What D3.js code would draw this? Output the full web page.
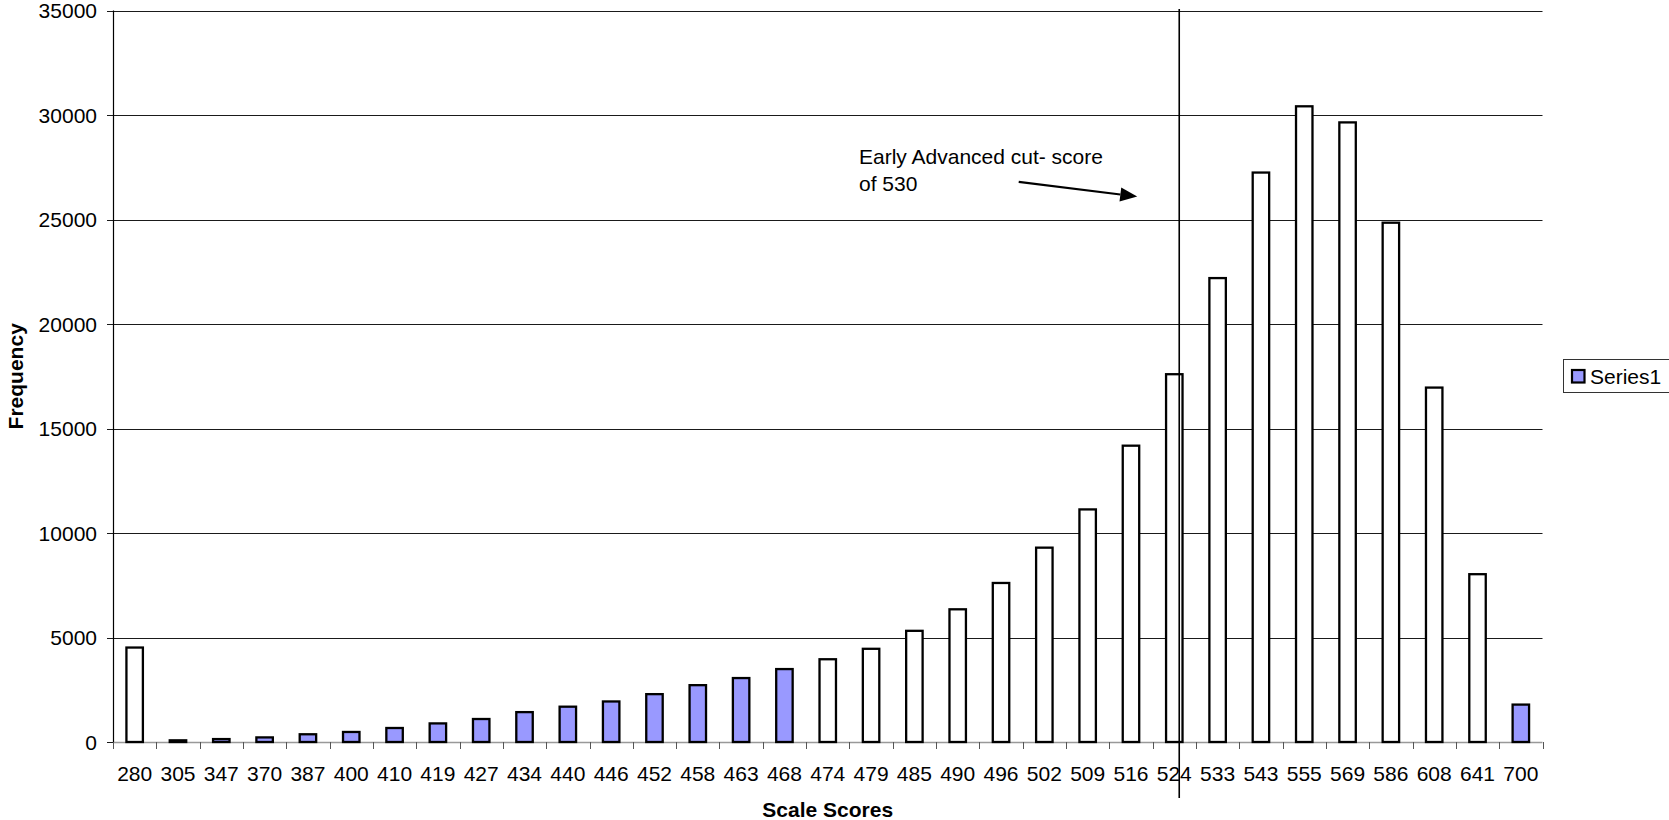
<!DOCTYPE html>
<html>
<head>
<meta charset="utf-8">
<script src="https://cdn.jsdelivr.net/npm/d3@7"></script>
<style>
  html, body { margin: 0; padding: 0; background: #fff; }
  svg { display: block; font-family: "Liberation Sans", Arial, sans-serif; }
</style>
</head>
<body>
<svg id="chart" width="1669" height="820"></svg>
<script>
// Scale-score categories and frequency counts
const scores = ["280","305","347","370","387","400","410","419","427","434","440","446","452","458","463","468","474","479","485","490","496","502","509","516","524","533","543","555","569","586","608","641","700"];
const frequencies = [4520, 80, 140, 220, 370, 480, 670, 890, 1100, 1430, 1690, 1940, 2290, 2720, 3060, 3490, 3960, 4460, 5320, 6350, 7610, 9300, 11130, 14180, 17600, 22200, 27250, 30420, 29650, 24850, 16960, 8030, 1790];
// Scores drawn with the series fill; the rest are left unfilled
const filledScores = ["305","347","370","387","400","410","419","427","434","440","446","452","458","463","468","700"];
const yTicks = [0, 5000, 10000, 15000, 20000, 25000, 30000, 35000];
const seriesName = "Series1";
const cutLabel = ["Early Advanced cut- score", "of 530"];

const FONT = 21;
const svg = d3.select("#chart");
const L = 113, R = 1542.5, T = 10.6, B = 742;

const x = d3.scaleBand().domain(scores).range([L, R]).paddingInner(0.62).paddingOuter(0.31);
const y = d3.scaleLinear().domain([0, 35000]).range([B, T]);
const step = x.step();

// Horizontal gridlines with short ticks left of the axis
const grid = svg.append("g");
grid.selectAll("line").data(yTicks.filter(d => d > 0)).join("line")
  .attr("x1", L - 6).attr("x2", R)
  .attr("y1", d => Math.round(y(d)) + 0.5).attr("y2", d => Math.round(y(d)) + 0.5)
  .attr("stroke", "#1a1a1a").attr("stroke-width", 1);
grid.append("line").attr("x1", L - 6).attr("x2", L)
  .attr("y1", Math.round(y(0)) + 0.5).attr("y2", Math.round(y(0)) + 0.5)
  .attr("stroke", "#1a1a1a");

// Y tick labels
svg.append("g").selectAll("text").data(yTicks).join("text")
  .attr("x", 97).attr("y", d => y(d)).attr("dy", "0.36em")
  .attr("text-anchor", "end").attr("font-size", FONT).attr("fill", "#000")
  .text(d => d);

// X axis line and category boundary ticks
svg.append("line").attr("x1", L).attr("x2", R)
  .attr("y1", Math.round(y(0)) + 0.5).attr("y2", Math.round(y(0)) + 0.5)
  .attr("stroke", "#999").attr("stroke-width", 1.5);
const boundaries = d3.range(scores.length + 1).map(i => L + i * step);
svg.append("g").selectAll("line").data(boundaries).join("line")
  .attr("x1", d => Math.round(d) + 0.5).attr("x2", d => Math.round(d) + 0.5)
  .attr("y1", B).attr("y2", B + 7)
  .attr("stroke", "#555").attr("stroke-width", 1);

// Bars
svg.append("g").selectAll("rect").data(scores).join("rect")
  .attr("x", d => x(d)).attr("width", x.bandwidth())
  .attr("y", (d, i) => y(frequencies[i]))
  .attr("height", (d, i) => y(0) - y(frequencies[i]))
  .attr("fill", d => filledScores.includes(d) ? "#9999FF" : "#FFFFFF")
  .attr("stroke", "#000").attr("stroke-width", 2.3);

// Y axis line
svg.append("line").attr("x1", L + 0.5).attr("x2", L + 0.5).attr("y1", T).attr("y2", B)
  .attr("stroke", "#000").attr("stroke-width", 1.2);

// X tick labels
svg.append("g").selectAll("text").data(scores).join("text")
  .attr("x", d => x(d) + x.bandwidth() / 2).attr("y", 780.5)
  .attr("text-anchor", "middle").attr("font-size", FONT).attr("fill", "#000")
  .text(d => d);

// Axis titles
svg.append("text").attr("x", (L + R) / 2).attr("y", 816.5)
  .attr("text-anchor", "middle").attr("font-size", FONT).attr("font-weight", "bold")
  .text("Scale Scores");
svg.append("text").attr("transform", `translate(22.5,${(T + B) / 2}) rotate(-90)`)
  .attr("text-anchor", "middle").attr("font-size", FONT).attr("font-weight", "bold")
  .text("Frequency");

// Cut-score marker line
const cutX = x("524") + x.bandwidth() * 0.8;
svg.append("line").attr("x1", cutX).attr("x2", cutX).attr("y1", 9).attr("y2", 798)
  .attr("stroke", "#000").attr("stroke-width", 1.6);

// Annotation text and arrow
const note = svg.append("text").attr("x", 859).attr("y", 163.5).attr("font-size", FONT).attr("fill", "#000");
cutLabel.forEach((t, i) => {
  note.append("tspan").attr("x", 859).attr("y", 163.5 + i * 27.2).text(t);
});
const tip = [cutX - 42, y(26100)];
const tail = [tip[0] - 118.5, y(26800)];
const ang = Math.atan2(tip[1] - tail[1], tip[0] - tail[0]);
const headLen = 17, headHalf = 7;
const baseX = tip[0] - headLen * Math.cos(ang), baseY = tip[1] - headLen * Math.sin(ang);
svg.append("line").attr("x1", tail[0]).attr("y1", tail[1]).attr("x2", baseX).attr("y2", baseY)
  .attr("stroke", "#000").attr("stroke-width", 2.2);
svg.append("polygon").attr("points", [
  tip,
  [baseX - headHalf * Math.sin(ang), baseY + headHalf * Math.cos(ang)],
  [baseX + headHalf * Math.sin(ang), baseY - headHalf * Math.cos(ang)]
].map(p => p.join(",")).join(" ")).attr("fill", "#000");

// Legend
const lg = svg.append("g");
lg.append("rect").attr("x", 1563.5).attr("y", 359.5).attr("width", 120).attr("height", 33)
  .attr("fill", "#fff").attr("stroke", "#333").attr("stroke-width", 1);
lg.append("rect").attr("x", 1572).attr("y", 370).attr("width", 12.5).attr("height", 12.5)
  .attr("fill", "#9999FF").attr("stroke", "#000").attr("stroke-width", 2.2);
lg.append("text").attr("x", 1590).attr("y", 384).attr("font-size", FONT).text(seriesName);
</script>
</body>
</html>
